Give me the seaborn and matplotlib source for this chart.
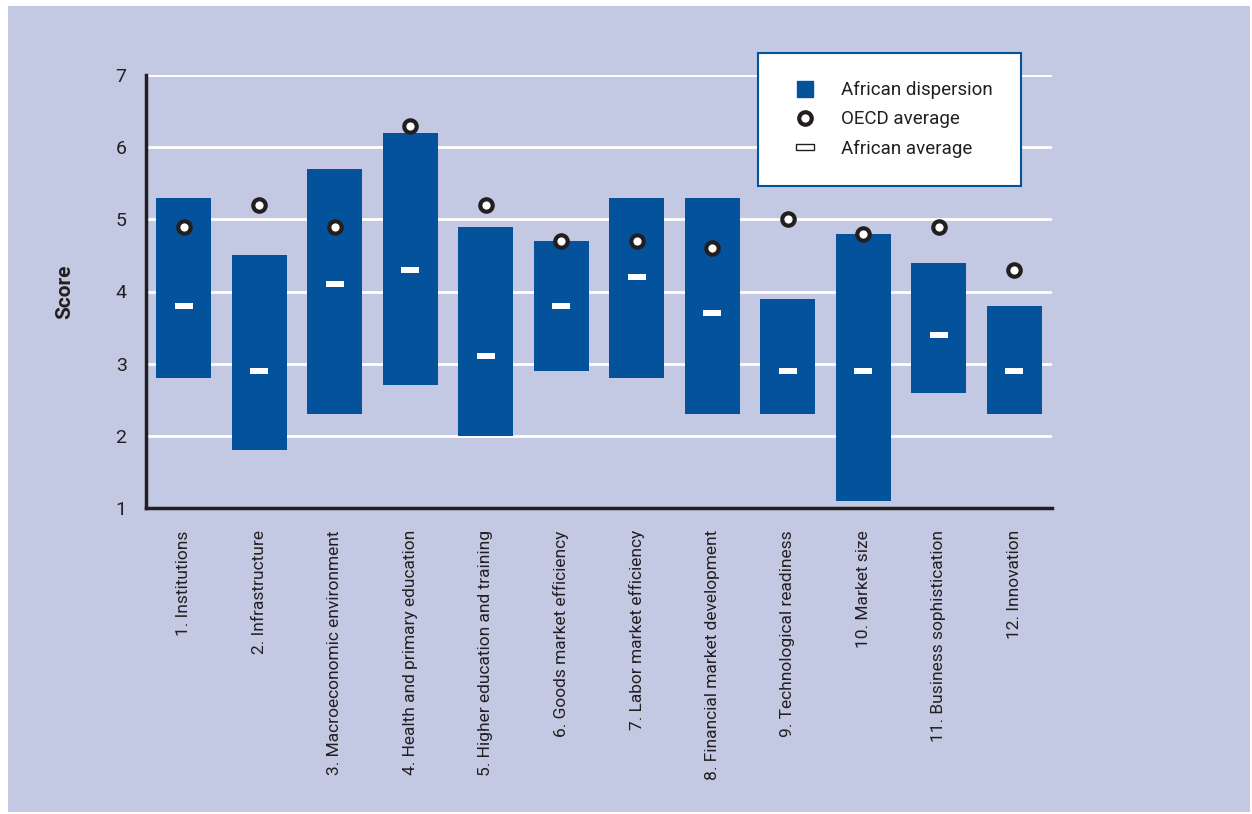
import numpy as np
import pandas as pd
import matplotlib.pyplot as plt
import matplotlib.patches as mpatches
from matplotlib.lines import Line2D
import seaborn as sns

# --- data ---
pillars = [
    "1. Institutions", "2. Infrastructure", "3. Macroeconomic environment",
    "4. Health and primary education", "5. Higher education and training",
    "6. Goods market efficiency", "7. Labor market efficiency",
    "8. Financial market development", "9. Technological readiness",
    "10. Market size", "11. Business sophistication", "12. Innovation",
]
africa_high = [5.3, 4.5, 5.7, 6.2, 4.9, 4.7, 5.3, 5.3, 3.9, 4.8, 4.4, 3.8]
africa_low = [2.8, 1.8, 2.3, 2.7, 2.0, 2.9, 2.8, 2.3, 2.3, 1.1, 2.6, 2.3]
africa_avg = [3.8, 2.9, 4.1, 4.3, 3.1, 3.8, 4.2, 3.7, 2.9, 2.9, 3.4, 2.9]
oecd_avg = [4.9, 5.2, 4.9, 6.3, 5.2, 4.7, 4.7, 4.6, 5.0, 4.8, 4.9, 4.3]

df = pd.DataFrame({
    "pillar": pillars,
    "low": africa_low,
    "span": np.array(africa_high) - np.array(africa_low),
    "avg": africa_avg,
    "oecd": oecd_avg,
})

BG = "#C4C9E3"
BLUE = "#03529B"
DARK = "#231F20"

sns.set_style("white")
plt.rcParams["font.family"] = ["Liberation Sans Narrow", "Roboto", "DejaVu Sans"]

fig = plt.figure(figsize=(12.52, 8.14), dpi=100, facecolor="white")
fig.patches.append(mpatches.Rectangle((8 / 1252, 2 / 814), 1242 / 1252, 806 / 814,
                                      transform=fig.transFigure, facecolor=BG,
                                      edgecolor="none", zorder=-10))
ax = fig.add_axes([146 / 1252, (814 - 508) / 814, (1052 - 146) / 1252, (508 - 75) / 814])
ax.set_facecolor(BG)

sns.barplot(data=df, x="pillar", y="span", bottom=df["low"], color=BLUE,
            width=0.73, saturation=1, errorbar=None, linewidth=0, ax=ax, zorder=2)

pos = np.arange(len(pillars))
dash = [(-1, -0.3), (1, -0.3), (1, 0.3), (-1, 0.3), (-1, -0.3)]
ax.scatter(pos, df["avg"], marker=dash, s=150, color="white", linewidths=0, zorder=4)
ax.scatter(pos, df["oecd"], marker="o", s=80, facecolor="white", edgecolor=DARK,
           linewidths=3, zorder=5)

ax.set_ylim(1, 7)
ax.set_xlim(-0.5, len(pillars) - 0.5)
ax.set_yticks(range(1, 8))
ax.yaxis.grid(True, color="white", linewidth=2, zorder=0)
ax.set_axisbelow(True)
for s in ["top", "right"]:
    ax.spines[s].set_visible(False)
for s in ["left", "bottom"]:
    ax.spines[s].set_color(DARK)
    ax.spines[s].set_linewidth(2.5)
ax.tick_params(axis="y", length=0, pad=14, labelsize=14, labelcolor=DARK)
ax.tick_params(axis="x", length=0, pad=16, labelsize=12.5, labelcolor=DARK)
ax.set_xticks(pos)
ax.set_xticklabels(pillars, rotation=90, va="top")
ax.set_xlabel("")
ax.set_ylabel("Score", fontsize=15, fontweight="bold", color=DARK, labelpad=30)

handles = [
    Line2D([], [], marker="s", linestyle="none", markersize=12, color=BLUE),
    Line2D([], [], marker="o", linestyle="none", markersize=9, markerfacecolor="white",
           markeredgecolor=DARK, markeredgewidth=3),
    Line2D([], [], marker=dash, linestyle="none", markersize=13, markerfacecolor="white",
           markeredgecolor=DARK, markeredgewidth=1),
]
leg = ax.legend(handles, ["African dispersion", "OECD average", "African average"],
                loc="upper left", bbox_to_anchor=(758 / 1252, 1 - 53 / 814),
                bbox_transform=fig.transFigure, frameon=True, fancybox=False,
                fontsize=13.5, borderpad=1.5, handlelength=2.0, handletextpad=0.95,
                labelspacing=0.6, borderaxespad=0)
leg.get_frame().set_edgecolor(BLUE)
leg.get_frame().set_linewidth(1.5)
leg.get_frame().set_facecolor("white")
leg.get_frame().set_alpha(1)
for t in leg.get_texts():
    t.set_color(DARK)

fig.savefig("out.png", dpi=100, facecolor="white")
